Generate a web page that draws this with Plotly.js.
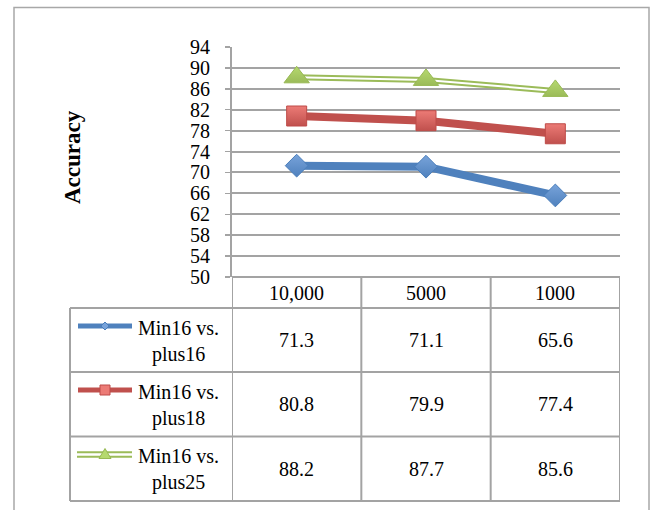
<!DOCTYPE html>
<html>
<head>
<meta charset="utf-8">
<script src="https://cdn.plot.ly/plotly-3.0.1.min.js"></script>
<style>
  html, body { margin: 0; padding: 0; background: #ffffff; }
  #chart { width: 654px; height: 510px; }
</style>
</head>
<body>
<div id="chart"></div>
<script>
// ---- data ----
const categories = ['10,000', '5000', '1000'];
const seriesNames = ['Min16 vs. plus16', 'Min16 vs. plus18', 'Min16 vs. plus25'];
const plus16Values = [71.3, 71.1, 65.6];
const plus18Values = [80.8, 79.9, 77.4];
const plus25Values = [88.2, 87.7, 85.6];
const yAxisTitle = 'Accuracy';

// ---- geometry (pixels) ----
const W = 654, H = 510;
const L = 232, R = 620, T = 47, B = 277;
const PW = R - L, PH = B - T;
const px = x => (x - L) / PW;          // pixel x -> paper x
const py = y => (B - y) / PH;          // pixel y -> paper y

const FONT = 'Liberation Serif, Times New Roman, serif';
const GRID = '#a3a3a3';

const seriesValues = [plus16Values, plus18Values, plus25Values];
const styles = [
  { line: '#4F81BD', fill: '#78A3DA', edge: '#4A7EBB', symbol: 'diamond', size: 17.5, width: 8, dbl: false },
  { line: '#C0504D', fill: '#EC7B76', edge: '#BE4B48', symbol: 'square', size: 20, width: 8, dbl: false },
  { line: '#9BBB59', fill: '#B5D96E', edge: '#98B954', symbol: 'triangle-up', size: 22, width: 6, dbl: true }
];

const traces = [];
seriesValues.forEach((vals, i) => {
  const s = styles[i];
  traces.push({
    type: 'scatter', mode: 'lines', x: categories, y: vals,
    line: { color: s.line, width: s.width }, hoverinfo: 'skip', showlegend: false
  });
  if (s.dbl) {
    traces.push({
      type: 'scatter', mode: 'lines', x: categories, y: vals,
      line: { color: '#ffffff', width: 2 }, hoverinfo: 'skip', showlegend: false
    });
  }
  traces.push({
    type: 'scatter', mode: 'markers', x: categories, y: vals, name: seriesNames[i],
    marker: { symbol: s.symbol, size: s.size, color: s.fill,
              gradient: { type: 'vertical', color: s.line },
              line: { color: s.edge, width: 1 } },
    showlegend: false
  });
});

// ---- table (grid lines, texts, legend keys) ----
const rowTops = [277, 308, 372, 436.5, 501];
const tableLeft = 70;
const shapes = [];
const annotations = [];
const lineStyle = { color: GRID, width: 2 };
const txt = (o) => Object.assign({ showarrow: false, xanchor: 'center', yanchor: 'middle',
  font: { family: FONT, size: 20, color: '#000' } }, o);

// outer chart border
shapes.push({ type: 'rect', xref: 'paper', yref: 'paper',
  x0: px(14), x1: px(649), y0: py(530), y1: py(7.5),
  line: { color: '#a8a8a8', width: 1.5 }, fillcolor: 'rgba(0,0,0,0)', layer: 'below' });

// horizontal table lines
rowTops.forEach((y, k) => {
  shapes.push({ type: 'line', xref: 'paper', yref: 'paper',
    x0: k === 0 ? 0 : px(tableLeft), x1: 1, y0: py(y), y1: py(y), line: lineStyle });
});
// vertical table lines at category boundaries
[-0.5, 0.5, 1.5, 2.5].forEach(xv => {
  shapes.push({ type: 'line', xref: 'x', yref: 'paper',
    x0: xv, x1: xv, y0: py(rowTops[0]), y1: py(rowTops[4]), line: lineStyle });
});
shapes.push({ type: 'line', xref: 'paper', yref: 'paper',
  x0: px(tableLeft), x1: px(tableLeft), y0: py(rowTops[1]), y1: py(rowTops[4]), line: lineStyle });

// header texts
categories.forEach((c, j) => {
  annotations.push(txt({ xref: 'x', yref: 'paper', x: j, y: py((rowTops[0] + rowTops[1]) / 2), text: c }));
});
// value texts and legend cells
seriesValues.forEach((vals, i) => {
  const top = rowTops[i + 1], bot = rowTops[i + 2];
  const mid = (top + bot) / 2;
  vals.forEach((v, j) => {
    annotations.push(txt({ xref: 'x', yref: 'paper', x: j, y: py(mid), text: v.toFixed(1) }));
  });
  annotations.push(txt({ xref: 'paper', yref: 'paper', x: px(178), y: py(mid + 1),
    text: seriesNames[i].replace(' vs. ', ' vs.<br>'), align: 'center' }));
  // legend key
  const s = styles[i];
  const ky = top + 18;
  if (s.dbl) {
    [-2.2, 2.2].forEach(d => shapes.push({ type: 'line', xref: 'paper', yref: 'paper',
      x0: px(77), x1: px(132), y0: py(ky + d), y1: py(ky + d), line: { color: s.line, width: 2 } }));
  } else {
    shapes.push({ type: 'line', xref: 'paper', yref: 'paper',
      x0: px(78), x1: px(132), y0: py(ky), y1: py(ky), line: { color: s.line, width: 5 } });
  }
  const mx = 105;
  if (s.symbol === 'diamond') {
    shapes.push({ type: 'path', xref: 'paper', yref: 'paper',
      path: `M ${px(mx - 4)} ${py(ky)} L ${px(mx)} ${py(ky - 4)} L ${px(mx + 4)} ${py(ky)} L ${px(mx)} ${py(ky + 4)} Z`,
      fillcolor: s.fill, line: { color: s.edge, width: 1 } });
  } else if (s.symbol === 'square') {
    shapes.push({ type: 'rect', xref: 'paper', yref: 'paper',
      x0: px(mx - 5), x1: px(mx + 5), y0: py(ky + 5), y1: py(ky - 5),
      fillcolor: s.fill, line: { color: s.edge, width: 1 } });
  } else {
    shapes.push({ type: 'path', xref: 'paper', yref: 'paper',
      path: `M ${px(mx - 6)} ${py(ky + 4)} L ${px(mx)} ${py(ky - 6)} L ${px(mx + 6)} ${py(ky + 4)} Z`,
      fillcolor: s.fill, line: { color: s.edge, width: 1 } });
  }
});

// y-axis title
annotations.push(txt({ xref: 'paper', yref: 'paper', x: px(72), y: py(157),
  text: '<b>' + yAxisTitle + '</b>', textangle: -90,
  font: { family: FONT, size: 23, color: '#000' } }));

const layout = {
  width: W, height: H,
  margin: { l: L, r: W - R, t: T, b: H - B, pad: 0 },
  paper_bgcolor: '#ffffff', plot_bgcolor: '#ffffff',
  showlegend: false,
  xaxis: { type: 'category', range: [-0.5, 2.5], showticklabels: false,
           showgrid: false, zeroline: false, showline: false, fixedrange: true },
  yaxis: { range: [50, 94], tick0: 50, dtick: 4, showgrid: true, gridcolor: GRID, gridwidth: 2,
           showline: true, linecolor: GRID, linewidth: 2, zeroline: false,
           ticks: 'outside', ticklen: 5, tickcolor: GRID, tickwidth: 1.5,
           ticklabelstandoff: 11,
           tickfont: { family: FONT, size: 20, color: '#000' }, fixedrange: true },
  shapes: shapes,
  annotations: annotations
};

Plotly.newPlot('chart', traces, layout, { displayModeBar: false, staticPlot: true });
</script>
</body>
</html>
